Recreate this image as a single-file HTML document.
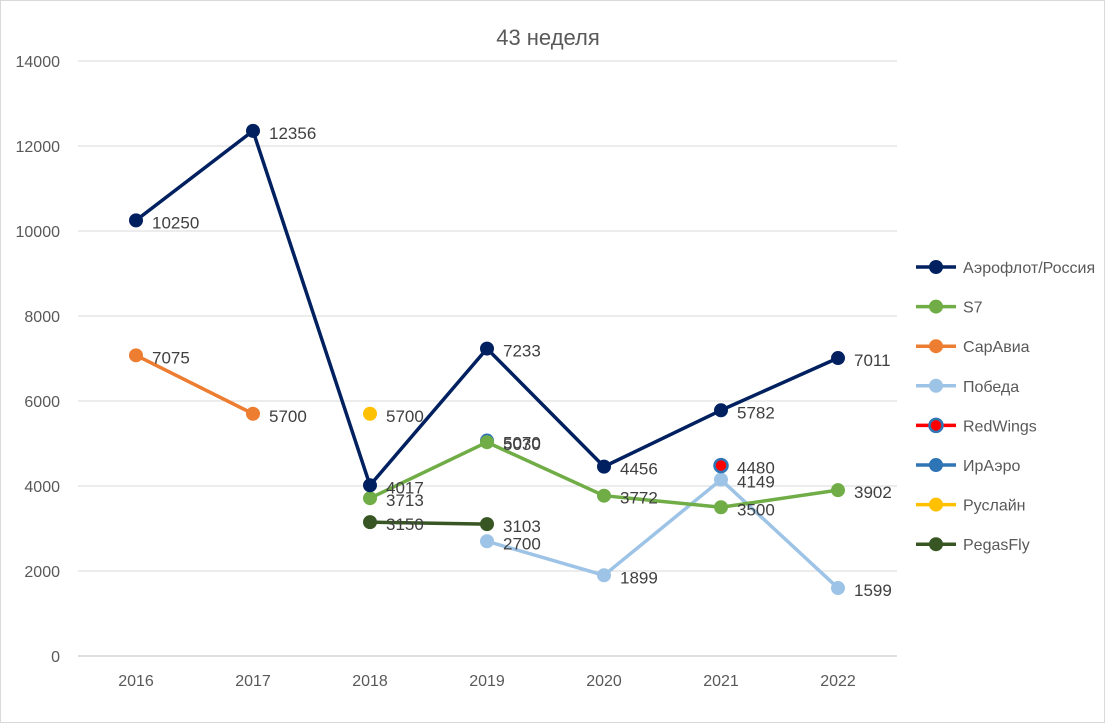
<!DOCTYPE html>
<html><head><meta charset="utf-8"><style>
body{margin:0;background:#fff}
svg{display:block;font-family:"Liberation Sans","DejaVu Sans",sans-serif}
</style></head><body>
<svg id="c" width="1105" height="723">
<rect x="0.5" y="0.5" width="1104" height="722" fill="#fff" stroke="#d9d9d9"/>
<text x="548" y="45" text-anchor="middle" font-size="22" fill="#595959">43 неделя</text>
<g id="grid"></g><g id="series"></g><g id="legend"></g>
</svg>
<script>
const years=["2016","2017","2018","2019","2020","2021","2022"];
const yTicks=[0,2000,4000,6000,8000,10000,12000,14000];
const names=["Аэрофлот/Россия","S7","СарАвиа","Победа","RedWings","ИрАэро","Руслайн","PegasFly"];
const colors=["#002060","#70ad47","#ed7d31","#9dc3e6","#ff0000","#2e75b6","#ffc000","#375623"];
const aeroflot=[10250,12356,4017,7233,4456,5782,7011];
const s7=[null,null,3713,5030,3772,3500,3902];
const saravia=[7075,5700,null,null,null,null,null];
const pobeda=[null,null,null,2700,1899,4149,1599];
const redwings=[null,null,null,null,null,4480,null];
const iraero=[null,null,null,5070,null,null,null];
const ruslain=[null,null,5700,null,null,null,null];
const pegas=[null,null,3150,3103,null,null,null];
const allSeries=[aeroflot,s7,saravia,pobeda,redwings,iraero,ruslain,pegas];
const NS="http://www.w3.org/2000/svg";
const X=i=>136+i*117, Y=v=>656-v*595/14000;
function mk(t,a,p){const e=document.createElementNS(NS,t);for(const k in a)e.setAttribute(k,a[k]);p.appendChild(e);return e;}
const g=document.getElementById('grid');
yTicks.forEach(v=>{
 const l=mk('line',{x1:78,x2:897,y1:Y(v),y2:Y(v),stroke:v===0?'#bfbfbf':'#d9d9d9'},g);
 
 
 const t=mk('text',{x:60,y:Y(v)+6,'text-anchor':'end','font-size':16,fill:'#595959'},g);t.textContent=v;
 
 
});
years.forEach((y,i)=>{
 const t=mk('text',{x:X(i),y:686,'text-anchor':'middle','font-size':16,fill:'#595959'},g);t.textContent=y;
 
 
});
const sg=document.getElementById('series');
const order=[3,2,6,5,7,1,0,4];
order.forEach(si=>{
 const d=allSeries[si],c=colors[si];
 const grp=mk('g',{},sg);
 
 
 let pts=[];
 d.forEach((v,i)=>{if(v!=null)pts.push([X(i),Y(v)]);});
 if(pts.length>1){const p=mk('polyline',{points:pts.map(p=>p.join(',')).join(' '),fill:'none',stroke:c,'stroke-width':3.5,'stroke-linejoin':'round'},grp);
  
  }
 d.forEach((v,i)=>{if(v==null)return;
  const m=mk('circle',{cx:X(i),cy:Y(v),r:6.5,fill:c,stroke:si===4?'#2e75b6':c,'stroke-width':si===4?2.5:1},grp);
  
  
  const t=mk('text',{x:X(i)+16,y:Y(v)+8,'font-size':17,fill:'#404040'},grp);t.textContent=v;
  
  
 });
});
const lg=document.getElementById('legend');
names.forEach((n,i)=>{
 const y=267+i*39.6;
 const e=mk('g',{},lg);
 
 
 mk('line',{x1:916,x2:956,y1:y,y2:y,stroke:colors[i],'stroke-width':3.5},e);
 mk('circle',{cx:936,cy:y,r:6.5,fill:colors[i],stroke:i===4?'#2e75b6':colors[i],'stroke-width':i===4?2.5:1},e);
 const t=mk('text',{x:963,y:y+6,'font-size':16,fill:'#595959'},e);t.textContent=n;
});
</script>
</body></html>
